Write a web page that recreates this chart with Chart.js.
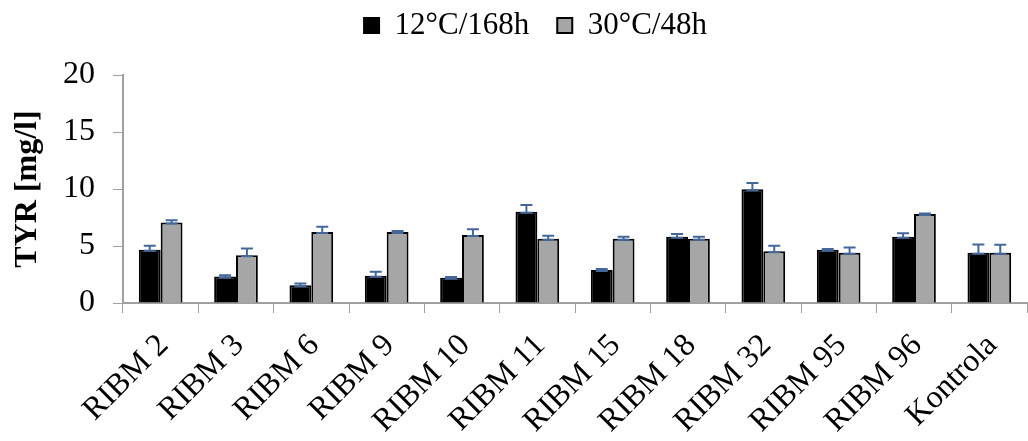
<!DOCTYPE html>
<html>
<head>
<meta charset="utf-8">
<script src="https://cdn.jsdelivr.net/npm/chart.js@4"></script>
<style>
html,body{margin:0;padding:0;background:#fff;}
#wrap{width:1028px;height:441px;position:relative;}
</style>
</head>
<body>
<div id="wrap"><canvas id="c" width="1028" height="441"></canvas></div>
<script>
const categories = ["RIBM 2","RIBM 3","RIBM 6","RIBM 9","RIBM 10","RIBM 11","RIBM 15","RIBM 18","RIBM 32","RIBM 95","RIBM 96","Kontrola"];
const series1Name = "12°C/168h";
const series2Name = "30°C/48h";
const series1 = [4.68, 2.33, 1.55, 2.40, 2.22, 8.00, 2.89, 5.82, 9.97, 4.68, 5.82, 4.41];
const series1Err = [0.35, 0.10, 0.17, 0.35, 0.05, 0.60, 0.10, 0.23, 0.55, 0.06, 0.30, 0.73];
const series2 = [7.07, 4.18, 6.22, 6.22, 5.96, 5.64, 5.64, 5.64, 4.53, 4.41, 7.80, 4.41];
const series2Err = [0.18, 0.60, 0.47, 0.10, 0.50, 0.26, 0.17, 0.17, 0.50, 0.46, 0.05, 0.70];
const yTicks = [0, 5, 10, 15, 20];

const errs = [series1Err, series2Err];

const errorBarPlugin = {
  id: 'errorBars',
  afterDatasetsDraw(chart) {
    const ctx = chart.ctx;
    const yScale = chart.scales.y;
    ctx.save();
    ctx.strokeStyle = '#44679a';
    ctx.lineWidth = 2;
    chart.data.datasets.forEach((ds, di) => {
      const meta = chart.getDatasetMeta(di);
      meta.data.forEach((el, i) => {
        const v = ds.data[i];
        const e = errs[di][i];
        const x = el.x;
        const yv = yScale.getPixelForValue(v);
        const yt = yScale.getPixelForValue(v + e);
        const hw = 6;
        ctx.beginPath();
        ctx.moveTo(x, yv); ctx.lineTo(x, yt);
        ctx.moveTo(x - hw, yt); ctx.lineTo(x + hw, yt);
        ctx.moveTo(x - hw, yv + 1); ctx.lineTo(x + hw, yv + 1);
        ctx.stroke();
      });
    });
    ctx.restore();
  }
};

const legendGapPlugin = {
  id: 'legendGap',
  beforeLayout(chart) {
    const lg = chart.legend;
    if (lg && !lg._gapPatched) {
      const fit = lg.fit;
      lg.fit = function () { fit.call(this); this.height += 24; };
      const draw = lg.draw;
      lg.draw = function () {
        const ctx = this.ctx;
        ctx.save();
        ctx.translate(22, 0);
        draw.apply(this, arguments);
        ctx.restore();
      };
      lg._gapPatched = true;
    }
  }
};

new Chart(document.getElementById('c'), {
  type: 'bar',
  data: {
    labels: categories,
    datasets: [
      { label: series1Name, data: series1, backgroundColor: '#000000', borderColor: '#000000', borderWidth: 2 },
      { label: series2Name, data: series2, backgroundColor: '#a6a6a6', borderColor: '#000000', borderWidth: 2 }
    ]
  },
  options: {
    responsive: false,
    animation: false,
    devicePixelRatio: 1,
    layout: { padding: { top: -18, right: 1, left: 0, bottom: 0 } },
    datasets: { bar: { categoryPercentage: 0.58, barPercentage: 1.0 } },
    plugins: {
      legend: {
        position: 'top',
        labels: {
          color: '#000',
          font: { family: 'Liberation Serif', size: 31 },
          boxWidth: 15, boxHeight: 15,
          padding: 28
        }
      },
      tooltip: { enabled: false }
    },
    scales: {
      x: {
        grid: { display: true, drawOnChartArea: false, drawTicks: true, tickLength: 10, color: '#a0a0a0', offset: true },
        border: { color: '#a0a0a0', width: 2 },
        ticks: { color: '#000', font: { family: 'Liberation Serif', size: 32 }, minRotation: 45, maxRotation: 45, padding: 14, labelOffset: 3 },
        afterFit(scale) { scale.height = 138; scale.paddingLeft = 0; scale.paddingRight = 0; }
      },
      y: {
        min: 0, max: 20,
        afterBuildTicks(scale) { scale.ticks = yTicks.map(v => ({ value: v })); },
        grid: { display: true, drawOnChartArea: false, drawTicks: true, tickLength: 10, color: '#a0a0a0' },
        border: { color: '#a0a0a0', width: 2 },
        ticks: { color: '#000', font: { family: 'Liberation Serif', size: 32 }, padding: 18 },
        title: { display: true, text: 'TYR [mg/l]', color: '#000', font: { family: 'Liberation Serif', size: 32, weight: 'bold' }, padding: { top: 9, bottom: 0 } },
        afterFit(scale) { scale.width = 123; }
      }
    }
  },
  plugins: [errorBarPlugin, legendGapPlugin]
});
</script>
</body>
</html>
